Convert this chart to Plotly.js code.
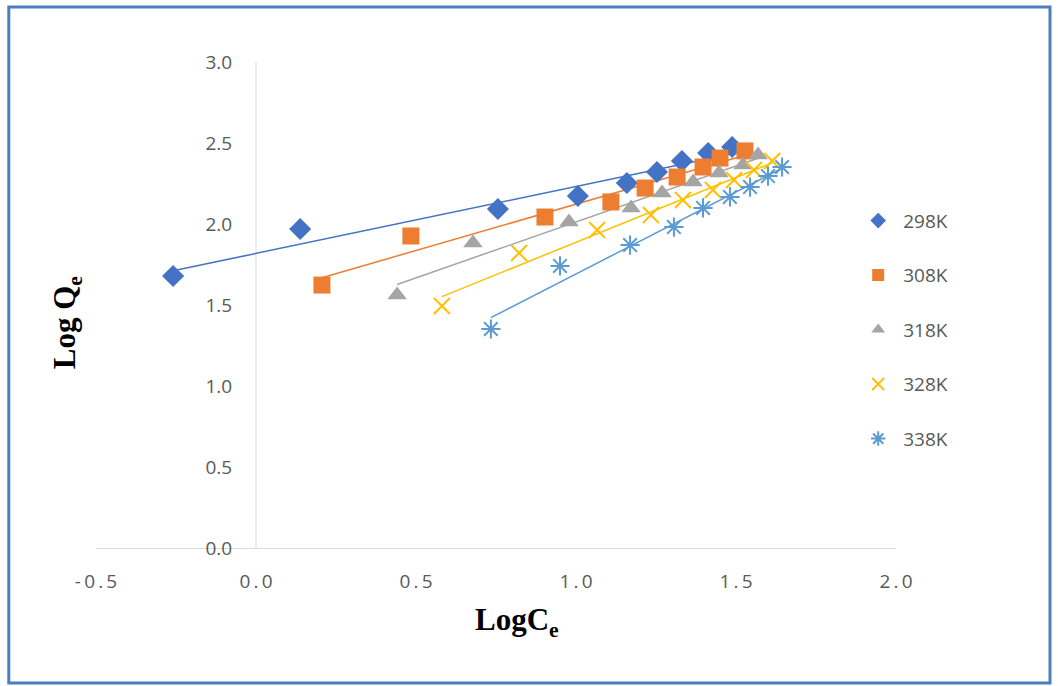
<!DOCTYPE html>
<html>
<head>
<meta charset="utf-8">
<script src="https://cdn.plot.ly/plotly-3.0.1.min.js"></script>
<style>html,body{margin:0;padding:0;background:#fff}#chart{width:1058px;height:686px}</style>
</head>
<body>
<div id="chart"></div>
<script>
const seriesNames = ["298K", "308K", "318K", "328K", "338K"];

const x298 = [-0.259, 0.138, 0.756, 1.006, 1.159, 1.253, 1.331, 1.413, 1.488];
const y298 = [1.679, 1.969, 2.093, 2.173, 2.253, 2.321, 2.389, 2.438, 2.475];

const x308 = [0.206, 0.484, 0.903, 1.109, 1.216, 1.316, 1.397, 1.450, 1.528];
const y308 = [1.623, 1.926, 2.043, 2.136, 2.222, 2.290, 2.352, 2.407, 2.451];

const x318 = [0.441, 0.678, 0.978, 1.172, 1.269, 1.366, 1.447, 1.522, 1.569];
const y318 = [1.562, 1.883, 2.012, 2.099, 2.191, 2.259, 2.315, 2.364, 2.426];

const x328 = [0.581, 0.822, 1.066, 1.234, 1.334, 1.428, 1.494, 1.556, 1.613];
const y328 = [1.494, 1.821, 1.963, 2.056, 2.148, 2.210, 2.272, 2.333, 2.389];

const x338 = [0.734, 0.950, 1.169, 1.306, 1.397, 1.481, 1.544, 1.600, 1.644];
const y338 = [1.352, 1.741, 1.870, 1.981, 2.099, 2.167, 2.228, 2.296, 2.352];

const xTickVals = [-0.5, 0, 0.5, 1.0, 1.5, 2.0];
const xTickText = ["-0.5", "0.0", "0.5", "1.0", "1.5", "2.0"];
const yTickVals = [0, 0.5, 1.0, 1.5, 2.0, 2.5, 3.0];
const yTickText = ["0.0", "0.5", "1.0", "1.5", "2.0", "2.5", "3.0"];

const colors = ["#4472C4", "#ED7D31", "#A5A5A5", "#FFC000", "#5B9BD5"];
const xs = [x298, x308, x318, x328, x338];
const ys = [y298, y308, y318, y328, y338];
const markers = [
  {symbol: "diamond", size: 17, color: colors[0]},
  {symbol: "square", size: 17, color: colors[1]},
  {symbol: "triangle-up", size: 17, color: colors[2]},
  {symbol: "x-thin-open", size: 16, color: colors[3], line: {color: colors[3], width: 2}},
  {symbol: "asterisk-open", size: 16, color: colors[4], line: {color: colors[4], width: 2}}
];

function fit(x, y) {
  const n = x.length;
  const mx = x.reduce((a, b) => a + b, 0) / n;
  const my = y.reduce((a, b) => a + b, 0) / n;
  let sxy = 0, sxx = 0;
  for (let i = 0; i < n; i++) { sxy += (x[i] - mx) * (y[i] - my); sxx += (x[i] - mx) ** 2; }
  const b = sxy / sxx;
  return {a: my - b * mx, b: b};
}

const spaced = s => s.split("").join("\u2009");

const traces = [];
for (let i = 0; i < 5; i++) {
  const f = fit(xs[i], ys[i]);
  const x0 = Math.min(...xs[i]), x1 = Math.max(...xs[i]);
  traces.push({
    x: [x0, x1], y: [f.a + f.b * x0, f.a + f.b * x1],
    mode: "lines", line: {color: colors[i], width: 1.5},
    showlegend: false, hoverinfo: "skip"
  });
}
for (let i = 0; i < 5; i++) {
  traces.push({
    x: xs[i], y: ys[i], name: seriesNames[i], mode: "markers",
    marker: markers[i], legendgroup: "g" + i
  });
}

const layout = {
  width: 1058, height: 686,
  margin: {l: 96, r: 162, t: 62, b: 138, autoexpand: false},
  paper_bgcolor: "#ffffff", plot_bgcolor: "#ffffff",
  showlegend: true,
  font: {family: "'Open Sans', sans-serif", color: "#595959", size: 19},
  xaxis: {
    range: [-0.5, 2.0], tickvals: xTickVals, ticktext: xTickText.map(spaced),
    showgrid: false, zeroline: false,
    showline: true, linecolor: "#d9d9d9", linewidth: 1,
    ticks: "outside", ticklen: 16, tickcolor: "rgba(0,0,0,0)",
    tickfont: {size: 19, color: "#595959"}, fixedrange: true
  },
  yaxis: {
    range: [0, 3.0], tickvals: yTickVals, ticktext: yTickText,
    showgrid: false, zeroline: false,
    showline: false,
    anchor: "free", position: 0.2,
    ticks: "outside", ticklen: 20, tickcolor: "rgba(0,0,0,0)",
    tickfont: {size: 19, color: "#595959"}, fixedrange: true
  },
  legend: {
    xref: "paper", yref: "paper",
    x: 0.9465, y: 0.7125, xanchor: "left", yanchor: "top",
    font: {size: 19, color: "#595959"},
    itemsizing: "constant", itemwidth: 40,
    tracegroupgap: 26.8, bgcolor: "rgba(0,0,0,0)"
  },
  annotations: [
    {text: "LogC<sub>e</sub>", xref: "paper", yref: "paper", x: 0.526, y: -0.152,
     xanchor: "center", yanchor: "middle", showarrow: false,
     font: {family: "'Liberation Serif', 'Times New Roman', serif", size: 31, color: "#000000", weight: "bold"}},
    {text: "Log Q<sub>e</sub>", xref: "paper", yref: "paper", x: -0.036, y: 0.465,
     xanchor: "center", yanchor: "middle", showarrow: false, textangle: -90,
     font: {family: "'Liberation Serif', 'Times New Roman', serif", size: 31, color: "#000000", weight: "bold"}}
  ],
  shapes: [
    {type: "rect", xref: "paper", yref: "paper", x0: -0.109, x1: 1.1925, y0: -0.2778, y1: 1.1132,
     line: {color: "#4A7EBF", width: 3}, fillcolor: "rgba(0,0,0,0)", layer: "below"},
    {type: "line", xref: "x", yref: "paper", x0: 0, x1: 0, y0: 0, y1: 1,
     line: {color: "#d9d9d9", width: 1}, layer: "below"}
  ]
};

Plotly.newPlot("chart", traces, layout, {displayModeBar: false, staticPlot: true});
</script>
</body>
</html>
